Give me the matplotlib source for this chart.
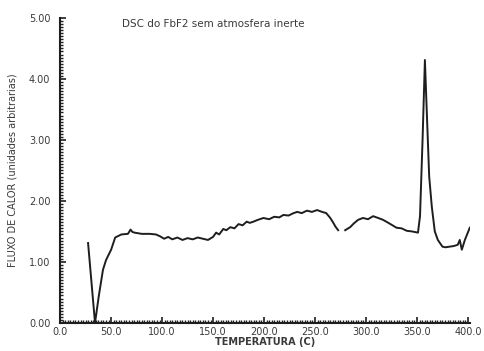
import numpy as np
import matplotlib.pyplot as plt
from matplotlib.ticker import MultipleLocator, FormatStrFormatter

# DSC trace (temperature in C, heat flow in arbitrary units)
temp_a = [27.4, 34.2, 38.0, 42.0, 45.0, 50.0, 54.0, 60.0, 66.5, 68.0, 69.0, 71.0, 73.0,
          80.0, 88.0, 94.0, 98.0, 102.0, 106.0, 110.0, 115.0, 120.0, 125.0, 130.0,
          135.0, 140.0, 145.0, 150.0, 153.0, 156.0, 160.0, 163.0, 167.0, 171.0,
          175.0, 179.0, 183.0, 186.0, 189.6, 194.0, 199.4, 205.0, 210.0, 215.0,
          219.0, 224.0, 229.0, 232.6, 237.0, 242.0, 247.0, 252.0, 257.0, 261.0,
          265.0, 268.0, 270.0, 272.7]
flux_a = [1.31, 0.00, 0.45, 0.87, 1.03, 1.20, 1.40, 1.45, 1.46, 1.50, 1.53, 1.49, 1.48,
          1.46, 1.46, 1.45, 1.42, 1.38, 1.41, 1.37, 1.40, 1.36, 1.39, 1.37,
          1.40, 1.38, 1.36, 1.41, 1.48, 1.45, 1.54, 1.52, 1.57, 1.55,
          1.62, 1.60, 1.66, 1.64, 1.66, 1.69, 1.72, 1.70, 1.74, 1.73,
          1.77, 1.76, 1.80, 1.82, 1.80, 1.84, 1.82, 1.85, 1.82, 1.80,
          1.72, 1.64, 1.58, 1.52]

temp_b = [279.6, 284.5, 288.0, 292.3, 297.0, 302.0, 307.0, 312.0, 316.7, 322.0, 326.0,
          330.0, 335.0, 340.0, 345.0, 351.0, 353.0, 355.5, 357.8, 360.0, 362.0,
          364.6, 367.5, 370.5, 375.0, 378.0, 382.0, 386.0, 390.0, 392.0, 394.0,
          397.0, 401.8]
flux_b = [1.52, 1.57, 1.63, 1.69, 1.72, 1.70, 1.75, 1.72, 1.69, 1.64, 1.60,
          1.56, 1.55, 1.51, 1.50, 1.48, 1.75, 3.00, 4.31, 3.30, 2.40,
          1.90, 1.50, 1.36, 1.25, 1.24, 1.25, 1.26, 1.28, 1.36, 1.20,
          1.36, 1.56]

plt.rcParams['font.family'] = ['DejaVu Sans']
text_col = '#3a3a3a'
line_col = '#1e1e1e'

fig = plt.figure(figsize=(4.85, 3.51), dpi=100)
ax = fig.add_axes([0.124, 0.080, 0.845, 0.869])

ax.plot(temp_a, flux_a, color=line_col, lw=1.4)
ax.plot(temp_b, flux_b, color=line_col, lw=1.4)

ax.set_xlim(0, 402)
ax.set_ylim(0, 5)

ax.spines['top'].set_visible(False)
ax.spines['right'].set_visible(False)
for s in ['left', 'bottom']:
    ax.spines[s].set_linewidth(1.5)
    ax.spines[s].set_color(line_col)

ax.xaxis.set_major_locator(MultipleLocator(50))
ax.xaxis.set_minor_locator(MultipleLocator(2.5))
ax.yaxis.set_major_locator(MultipleLocator(1))
ax.yaxis.set_minor_locator(MultipleLocator(0.05))
ax.xaxis.set_major_formatter(FormatStrFormatter('%.1f'))
ax.yaxis.set_major_formatter(FormatStrFormatter('%.2f'))
ax.tick_params(which='major', direction='in', length=4, width=1.2, color=line_col,
               labelsize=7, labelcolor=text_col)
ax.tick_params(axis='y', which='major', pad=7)
ax.tick_params(axis='x', which='major', pad=3)
ax.tick_params(which='minor', direction='in', length=2, width=1.0, color=line_col)

ax.set_xlabel('TEMPERATURA (C)', fontsize=7, color=text_col, fontweight='bold', labelpad=0)
ax.set_ylabel('FLUXO DE CALOR (unidades arbitrarias)', fontsize=7, color=text_col, labelpad=8)
ax.text(0.15, 0.995, 'DSC do FbF2 sem atmosfera inerte', transform=ax.transAxes,
        fontsize=7.5, color=text_col, va='top', ha='left')

fig.savefig('out.png', dpi=100)
